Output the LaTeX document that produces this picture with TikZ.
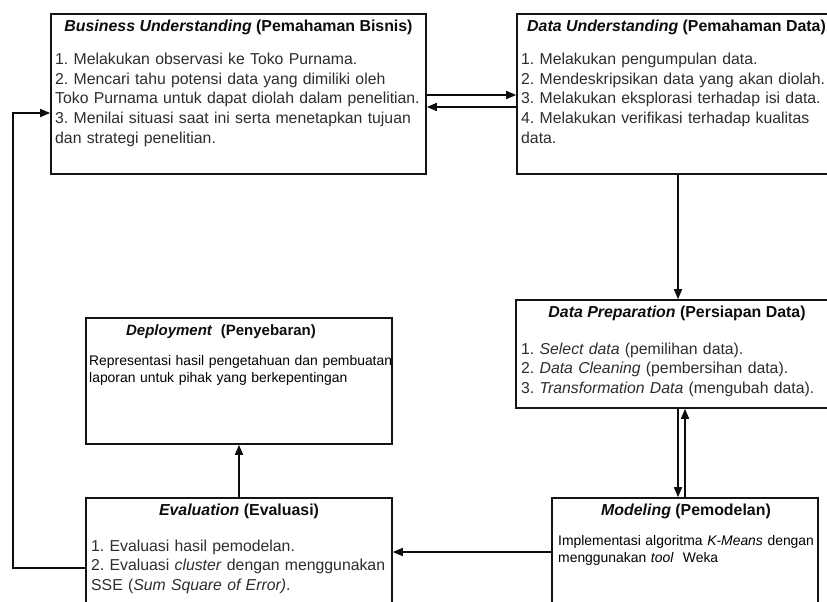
\documentclass[tikz,border=0pt]{standalone}
\usepackage{fontspec}
\setmainfont{Liberation Sans}
\usepackage{tikz}
\usetikzlibrary{
  arrows.meta,
  calc,
  positioning
}
\frenchspacing
\definecolor{boxStroke}{RGB}{20,20,20}
\definecolor{bodyText}{RGB}{45,45,45}
\colorlet{ink}{black!95}
\tikzset{
  >={Triangle[length=10pt,width=8pt]},
  arrow/.style={-{Triangle[length=10pt,width=8pt]}, draw=ink, line width=1.6pt},
  connector/.style={draw=ink, line width=1.6pt},
  stagebox/.style={
    draw=boxStroke,
    fill=white,
    line width=1.6pt,
    inner sep=0pt
  },
  stagetitle/.style={
    anchor=base,
    inner sep=0pt,
    text=ink,
    font=\fontsize{15.9}{18}\selectfont\bfseries
  },
  stagetext/.style={
    anchor=base west,
    inner sep=0pt,
    text width=#1,
    align=left,
    text=bodyText,
    font=\fontsize{15.8}{19.5}\selectfont
  },
  smalltext/.style={
    anchor=base west,
    inner sep=0pt,
    text width=#1,
    align=left,
    text=black,
    font=\fontsize{13.9}{17}\selectfont
  }
}

\begin{document}
\begin{tikzpicture}[x=1pt,y=-1pt]
  \useasboundingbox (0,0) rectangle (827,602);
  \fill[white] (0,0) rectangle (827,602);
  \clip (0,0) rectangle (827,602);

  % stage boxes
  \node[stagebox, minimum width=375, minimum height=160] (business) at (238.5,94) {};
  \node[stagebox, minimum width=330, minimum height=160] (dataund) at (682,94) {};
  \node[stagebox, minimum width=324, minimum height=108] (dataprep) at (678,354) {};
  \node[stagebox, minimum width=266, minimum height=122] (modeling) at (685,559) {};
  \node[stagebox, minimum width=306, minimum height=122] (evaluation) at (239,559) {};
  \node[stagebox, minimum width=306, minimum height=126] (deployment) at (239,381) {};

  % titles
  \node[stagetitle] (bustitle) at (238.5,32) {\textit{Business Understanding} (Pemahaman Bisnis)};
  \node[stagetitle, anchor=base west] (dutitle) at (527,32) {\textit{Data Understanding} (Pemahaman Data)};
  \node[stagetitle] (dptitle) at (677,317) {\textit{Data Preparation} (Persiapan Data)};
  \node[stagetitle] (motitle) at (686,515) {\textit{Modeling} (Pemodelan)};
  \node[stagetitle] (evtitle) at (239,515) {\textit{Evaluation} (Evaluasi)};
  \node[stagetitle, font=\fontsize{15}{17}\selectfont\bfseries] (detitle) at (221,335) {\textit{Deployment}\ \ (Penyebaran)};

  % contents
  \node[stagetext=420] (bustext) at (55,65) {1. Melakukan observasi ke Toko Purnama.\\2. Mencari tahu potensi data yang dimiliki oleh\\Toko Purnama untuk dapat diolah dalam penelitian.\\3. Menilai situasi saat ini serta menetapkan tujuan\\dan strategi penelitian.};
  \node[stagetext=360] (dutext) at (521,65) {1. Melakukan pengumpulan data.\\2. Mendeskripsikan data yang akan diolah.\\3. Melakukan eksplorasi terhadap isi data.\\4. Melakukan verifikasi terhadap kualitas\\data.};
  \node[stagetext=360] (dptext) at (521,354) {1. \textit{Select data} (pemilihan data).\\2. \textit{Data Cleaning} (pembersihan data).\\3. \textit{Transformation Data} (mengubah data).};
  \node[smalltext=300] (motext) at (558,545) {Implementasi algoritma \textit{K-Means} dengan\\menggunakan \textit{tool}\ \ Weka};
  \node[stagetext=340] (evtext) at (91,551) {1. Evaluasi hasil pemodelan.\\2. Evaluasi \textit{cluster} dengan menggunakan\\SSE (\textit{Sum Square of Error)}.};
  \node[smalltext=340] (detext) at (89,365) {Representasi hasil pengetahuan dan pembuatan\\laporan untuk pihak yang berkepentingan};

  % flow
  \draw[arrow] ($(business.east)+(0,1)$) -- ($(dataund.west)+(0,1)$);
  \draw[arrow] ($(dataund.west)+(0,13)$) -- ($(business.east)+(0,13)$);
  \draw[arrow] (dataund.south -| dataprep.north) -- (dataprep.north);
  \draw[arrow] (dataprep.south) -- (dataprep.south |- modeling.north);
  \draw[arrow] (modeling.north) -- (modeling.north |- dataprep.south);
  \draw[arrow] ($(modeling.west)+(0,-7)$) -- ($(evaluation.east)+(0,-7)$);
  \draw[arrow] (evaluation.north) -- (deployment.south);
  \draw[arrow] ($(evaluation.west)+(0,9)$) -| ($(business.west)+(-37,19)$) -- ($(business.west)+(0,19)$);
\end{tikzpicture}
\end{document}
